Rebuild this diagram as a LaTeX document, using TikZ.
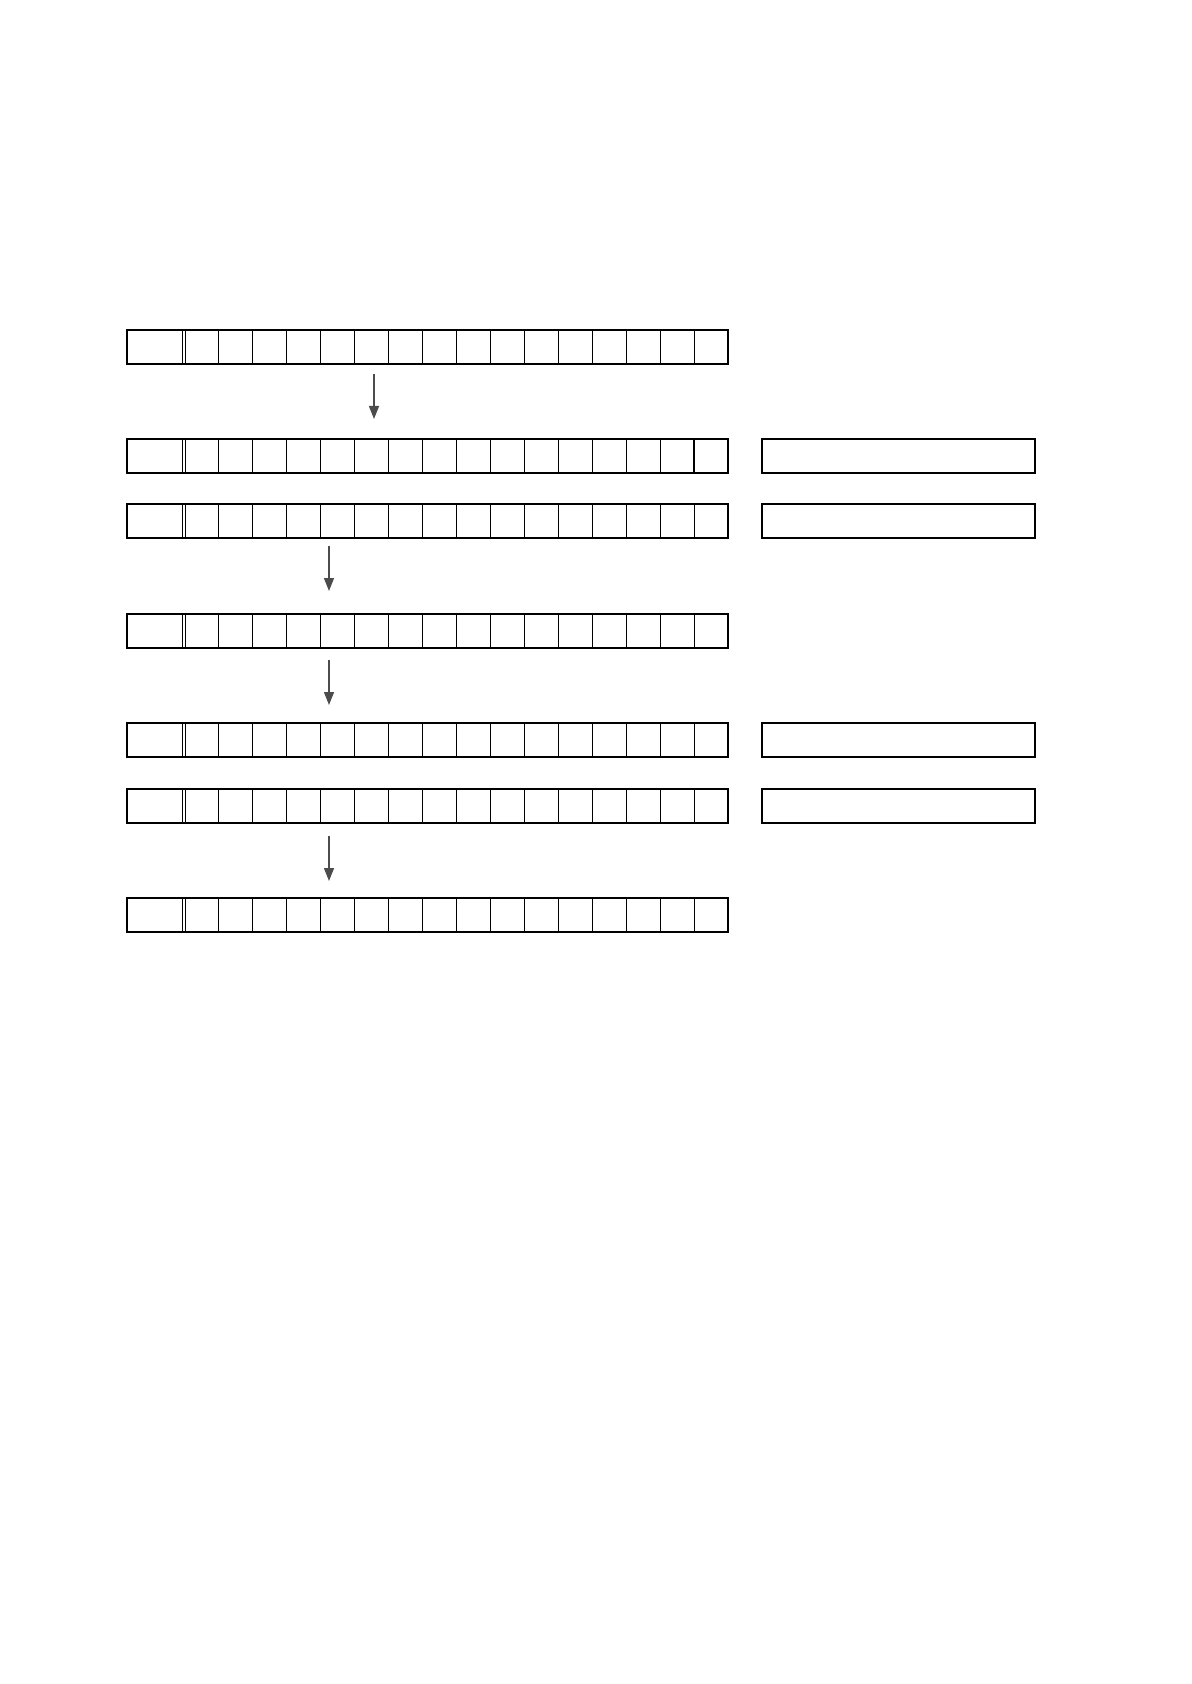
\documentclass[tikz,border=0pt]{standalone}
\usetikzlibrary{arrows.meta}

\begin{document}
\begin{tikzpicture}[x=0.5pt, y=-0.5pt,
    thin line/.style={line width=0.5pt},
    strip/.style={draw, line width=0.85pt, minimum width=300.5pt, minimum height=17pt, inner sep=0pt},
    memo/.style={draw, line width=0.85pt, minimum width=136.5pt, minimum height=17pt, inner sep=0pt},
    flow/.style={draw=black!70, line width=0.7pt, -{Triangle[length=6.5pt, width=5pt]}}]
    \useasboundingbox (0, 0) rectangle (1191, 1684);

    \foreach \y/\n in {330/r1, 439/r2, 504/r3, 614/r4, 723/r5, 789/r6, 898/r7} {
      \draw [thin line] (182.5, \y) -- (182.5, \y + 34);
      \draw [thin line] (185.5, \y) -- (185.5, \y + 34);
      \foreach \i in {1, ..., 15}
        \draw [thin line] (184.3 + 34 * \i, \y) -- (184.3 + 34 * \i, \y + 34);
      \node [strip] (\n) at (427.5, \y + 17) {};
    }
    \draw [line width=0.85pt] (694.3, 439) -- (694.3, 473);

    \foreach \y/\n in {439/m2, 504/m3, 723/m5, 789/m6}
      \node [memo] (\n) at (898.5, \y + 17) {};

    \coordinate (a1) at (374, 374);
    \coordinate (b1) at (374, 419);
    \coordinate (a2) at (329, 546);
    \coordinate (b2) at (329, 591);
    \coordinate (a3) at (329, 660);
    \coordinate (b3) at (329, 705);
    \coordinate (a4) at (329, 836);
    \coordinate (b4) at (329, 881);
    \foreach \k in {1, ..., 4}
      \draw [flow] (a\k) -- (b\k);
  \end{tikzpicture}
\end{document}
